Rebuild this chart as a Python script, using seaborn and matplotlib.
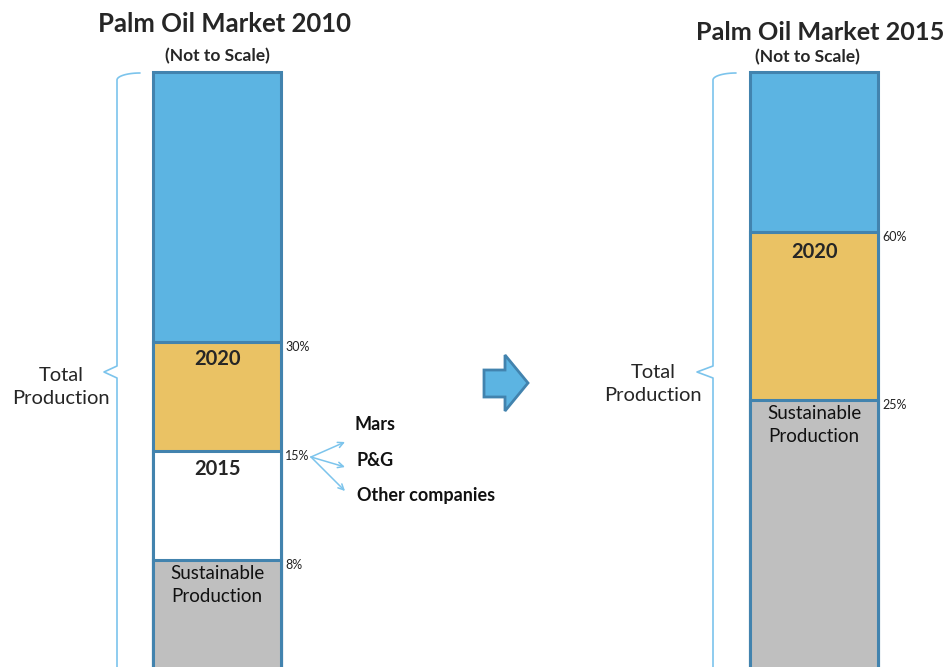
import numpy as np
import matplotlib
matplotlib.use("Agg")
import matplotlib.pyplot as plt
from matplotlib.patches import Polygon
import seaborn as sns

# ---- data (segment heights are illustrative, "not to scale") ----
markets = ["Palm Oil Market 2010", "Palm Oil Market 2015"]
seg_sustainable = [140, 300]
seg_2015 = [109, 0]
seg_2020 = [109, 168]
seg_rest = [270, 160]
pct_labels_2010 = ["8%", "15%", "30%"]
pct_labels_2015 = ["25%", "60%"]
companies = ["Mars", "P&G", "Other companies"]

sns.set_theme(style="white")
plt.rcParams["font.family"] = ["Lato", "DejaVu Sans"]

BLUE = "#5CB4E2"
GOLD = "#EAC264"
GRAY = "#BFBFBF"
EDGE = "#4283AE"
BRACE = "#7CC4EC"

fig = plt.figure(figsize=(9.47, 6.67), dpi=100)
ax = fig.add_axes([0, 0, 1, 1])

s = np.array(seg_sustainable, float)
w15 = np.array(seg_2015, float)
g20 = np.array(seg_2020, float)
r = np.array(seg_rest, float)
cum_sus = s
cum_15 = s + w15
cum_20 = cum_15 + g20
cum_all = cum_20 + r

bar_w = 128 / 597
layers = [
    (cum_all, BLUE),
    (cum_20, GOLD),
    (np.where(w15 > 0, cum_15, np.nan), "white"),
    (cum_sus, GRAY),
]
for vals, col in layers:
    sns.barplot(x=markets, y=vals, order=markets, color=col, saturation=1,
                width=bar_w, edgecolor=EDGE, linewidth=2.2, errorbar=None, ax=ax)

ax.set_xlim(-217 / 597, 1 + (947 - 814) / 597)
ax.set_ylim(33, 700)
ax.axis("off")

# percent labels at segment boundaries
xr = bar_w / 2 + 0.007
for y, lab in zip([cum_sus[0], cum_15[0], cum_20[0]], pct_labels_2010):
    ax.text(0 + xr, y - 5, lab, fontsize=9, va="center", ha="left", color="#222222")
for y, lab in zip([cum_sus[1], cum_20[1]], pct_labels_2015):
    ax.text(1 + xr, y - 5, lab, fontsize=9, va="center", ha="left", color="#222222")

# segment labels
ax.text(0, cum_20[0] - 17, "2020", fontsize=14.5, fontweight="bold", ha="center", va="center")
ax.text(0, cum_15[0] - 18, "2015", fontsize=14.5, fontweight="bold", ha="center", va="center")
ax.text(0, cum_sus[0] - 25, "Sustainable\nProduction", fontsize=13.5, ha="center", va="center",
        linespacing=1.45, color="#111111")
ax.text(1, cum_20[1] - 20, "2020", fontsize=14.5, fontweight="bold", ha="center", va="center")
ax.text(1, cum_sus[1] - 25, "Sustainable\nProduction", fontsize=13.5, ha="center", va="center",
        linespacing=1.45, color="#111111")

# ---- overlay in pixel coordinates for annotations ----
ov = fig.add_axes([0, 0, 1, 1], facecolor="none")
ov.set_xlim(0, 947)
ov.set_ylim(667, 0)
ov.axis("off")

ov.text(225, 24, markets[0], fontsize=18.5, fontweight="bold", ha="center", va="center")
ov.text(217, 56, "(Not to Scale)", fontsize=12.5, fontweight="bold", ha="center", va="center")
ov.text(944, 33, markets[1], fontsize=18.2, fontweight="bold", ha="right", va="center")
ov.text(807, 57, "(Not to Scale)", fontsize=12.5, fontweight="bold", ha="center", va="center")

ov.text(61, 387, "Total\nProduction", fontsize=14.5, ha="center", va="center", linespacing=1.45)
ov.text(653, 384, "Total\nProduction", fontsize=14.5, ha="center", va="center", linespacing=1.45)

def brace(xv, xtop, xtip, ytip):
    t = np.linspace(0, np.pi / 2, 20)
    cx = xv + (xtop - xv) * (1 - np.cos(t))
    cy = 73 + 7 * (1 - np.sin(t))
    xs = list(cx[::-1]) + [xv, xv, xtip, xv, xv, xv]
    ys = list(cy[::-1]) + [80, ytip - 6, ytip, ytip + 6, ytip + 12, 700]
    ov.plot(xs, ys, color=BRACE, lw=1.2, solid_joinstyle="round")

brace(117, 140, 104, 372)
brace(713, 736, 697, 372)

# company arrows
targets = [(345, 442), (345, 467), (345, 491)]
label_pos = [(354, 425), (357, 460), (357, 496)]
for (tx, ty) in targets:
    ov.annotate("", xy=(tx, ty), xytext=(311, 457),
                arrowprops=dict(arrowstyle="->", color=BRACE, lw=1.1,
                                shrinkA=0, shrinkB=0, mutation_scale=10))
for (lx, ly), name in zip(label_pos, companies):
    ov.text(lx, ly, name, fontsize=13, fontweight="bold", ha="left", va="center",
            color="#111111")

# block arrow between the two markets
arrow = Polygon([(484, 370), (505, 370), (505, 355), (528, 383),
                 (505, 411), (505, 397), (484, 397)],
                closed=True, facecolor=BLUE, edgecolor=EDGE, lw=2)
ov.add_patch(arrow)

fig.savefig("out.png", dpi=100)
